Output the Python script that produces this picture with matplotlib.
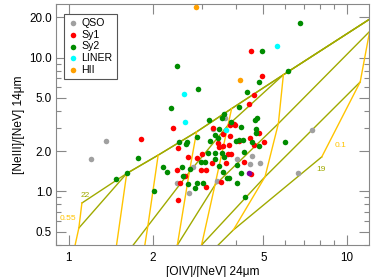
import numpy as np
import matplotlib
matplotlib.use("Agg")
import matplotlib.pyplot as plt
from matplotlib.ticker import FixedLocator, FixedFormatter, LogLocator, NullFormatter

plt.rcParams['font.family'] = ['Liberation Sans', 'DejaVu Sans']

# log10 line ratios
# x = log10([OIV]/[NeV] 24um), y = log10([NeIII]/[NeV] 14um)
qso_x = [0.078, 0.133, 0.390, 0.432, 0.446, 0.519, 0.562, 0.531, 0.605, 0.660, 0.651, 0.687, 0.822, 0.874]
qso_y = [0.241, 0.373, 0.060, -0.015, 0.179, 0.470, 0.549, 0.079, 0.239, 0.266, 0.201, 0.213, 0.134, 0.460]

sy1_x = [0.259, 0.375, 0.653, 0.693, 0.664, 0.647, 0.519, 0.579, 0.592, 0.598, 0.684, 0.578, 0.555,
         0.612, 0.651, 0.666, 0.703, 0.535, 0.553, 0.540, 0.577, 0.573, 0.583, 0.427, 0.459, 0.477,
         0.515, 0.387, 0.418, 0.474, 0.493, 0.547, 0.493, 0.393, 0.399, 0.565, 0.628, 0.654, 0.391]
sy1_y = [0.390, 0.475, 1.052, 0.866, 0.719, 0.654, 0.475, 0.495, 0.502, 0.495, 0.440, 0.415, 0.428,
         0.375, 0.398, 0.348, 0.368, 0.363, 0.340, 0.333, 0.346, 0.278, 0.278, 0.258, 0.246, 0.276,
         0.213, 0.159, 0.116, 0.159, 0.159, 0.067, 0.034, -0.065, 0.062, 0.209, 0.221, 0.129, 0.325]

sy2_x = [0.390, 0.367, 0.832, 0.694, 0.787, 0.684, 0.465, 0.639, 0.613, 0.556, 0.504, 0.549, 0.676,
         0.670, 0.583, 0.538, 0.620, 0.672, 0.672, 0.460, 0.526, 0.537, 0.613, 0.627, 0.657, 0.683,
         0.777, 0.630, 0.600, 0.396, 0.423, 0.421, 0.509, 0.247, 0.210, 0.169, 0.337, 0.351, 0.405,
         0.435, 0.411, 0.474, 0.490, 0.501, 0.525, 0.549, 0.525, 0.541, 0.559, 0.553, 0.567, 0.576,
         0.605, 0.604, 0.618, 0.428, 0.461, 0.481, 0.454, 0.306, 0.633]
sy2_y = [0.935, 0.624, 1.258, 1.052, 0.900, 0.818, 0.769, 0.746, 0.631, 0.579, 0.532, 0.545, 0.545,
         0.537, 0.519, 0.463, 0.485, 0.470, 0.440, 0.407, 0.420, 0.400, 0.383, 0.385, 0.370, 0.340,
         0.366, 0.296, 0.375, 0.370, 0.370, 0.358, 0.375, 0.246, 0.140, 0.096, 0.184, 0.146, 0.181,
         0.166, 0.116, 0.221, 0.221, 0.284, 0.284, 0.284, 0.239, 0.189, 0.258, 0.144, 0.101, 0.101,
         0.060, 0.194, 0.139, 0.054, 0.060, 0.060, 0.025, 0.006, -0.040]

liner_x = [0.415, 0.419, 0.749, 0.565]
liner_y = [0.725, 0.516, 1.084, 0.457]

hii_x = [0.457, 0.616]
hii_y = [1.378, 0.833]

other_x = [0.647]
other_y = [0.134]

# model grid (log10), rows = olive tracks (22 ... 19), columns = yellow tracks (0.55 ... 0.1)
nan = np.nan
grid_x = [[0.047, 0.208, 0.321, 0.459, 0.585, 0.771, 1.104],
          [0.036, 0.208, 0.321, 0.459, 0.585, 0.771, 1.104],
          [-0.060, 0.158, 0.284, 0.433, 0.572, 0.771, 1.104],
          [nan, nan, 0.237, 0.390, 0.525, 0.753, 1.081],
          [nan, nan, nan, 0.370, 0.477, 0.705, 1.047],
          [nan, nan, nan, nan, 0.460, 0.591, 0.909]]
grid_y = [[-0.087, 0.134, 0.271, 0.445, 0.619, 0.872, 1.319],
          [-0.274, 0.134, 0.271, 0.445, 0.619, 0.872, 1.319],
          [-1.184, -0.599, -0.259, 0.144, 0.495, 0.872, 1.319],
          [nan, nan, -0.875, -0.401, 0.047, 0.507, 1.196],
          [nan, nan, nan, -0.646, -0.401, 0.109, 0.818],
          [nan, nan, nan, nan, -0.560, -0.289, 0.258]]

olive = '#a0aa00'
gold = '#ffc400'

fig = plt.figure(figsize=(3.74, 2.77), dpi=100)
ax = fig.add_axes([0.150, 0.117, 0.837, 0.867])
ax.set_xscale('log')
ax.set_yscale('log')

gx = 10 ** np.array(grid_x)
gy = 10 ** np.array(grid_y)
for r in range(gx.shape[0]):
    ax.plot(gx[r], gy[r], color=olive, lw=1.0, zorder=2)
for c in range(gx.shape[1]):
    ax.plot(gx[:, c], gy[:, c], color=gold, lw=1.0, zorder=2)

ax.text(1.1045, 0.938, '22', color=olive, fontsize=6, va='center', ha='left')
ax.text(0.923, 0.629, '0.55', color=gold, fontsize=6, va='center', ha='left')
ax.text(9.05, 2.197, '0.1', color=gold, fontsize=6, va='center', ha='left')
ax.text(7.735, 1.467, '19', color=olive, fontsize=6, va='center', ha='left')

ms = 16
ax.scatter(10 ** np.array(qso_x), 10 ** np.array(qso_y), s=ms, color='#a0a0a0', lw=0, label='QSO', zorder=3)
ax.scatter(10 ** np.array(sy1_x), 10 ** np.array(sy1_y), s=ms, color='#ff0000', lw=0, label='Sy1', zorder=3)
ax.scatter(10 ** np.array(sy2_x), 10 ** np.array(sy2_y), s=ms, color='#008c00', lw=0, label='Sy2', zorder=3)
ax.scatter(10 ** np.array(liner_x), 10 ** np.array(liner_y), s=ms, color='#00ffff', lw=0, label='LINER', zorder=3)
ax.scatter(10 ** np.array(hii_x), 10 ** np.array(hii_y), s=ms, color='#ffa000', lw=0, label='HII', zorder=3)
ax.scatter(10 ** np.array(other_x), 10 ** np.array(other_y), s=ms, color='#8000a0', lw=0, zorder=3)

ax.set_xlim(0.9, 12.0)
ax.set_ylim(0.4, 25.0)

ax.xaxis.set_major_locator(FixedLocator([1, 2, 5, 10]))
ax.xaxis.set_major_formatter(FixedFormatter(['1', '2', '5', '10']))
ax.xaxis.set_minor_locator(LogLocator(base=10, subs=np.arange(2, 10)))
ax.xaxis.set_minor_formatter(NullFormatter())
ax.yaxis.set_major_locator(FixedLocator([0.5, 1, 2, 5, 10, 20]))
ax.yaxis.set_major_formatter(FixedFormatter(['0.5', '1.0', '2.0', '5.0', '10.0', '20.0']))
ax.yaxis.set_minor_locator(LogLocator(base=10, subs=np.arange(2, 10)))
ax.yaxis.set_minor_formatter(NullFormatter())

for s in ax.spines.values():
    s.set_color('#888888')
ax.tick_params(which='both', direction='in', top=True, right=True, color='#888888', labelsize=8.4)
ax.tick_params(which='major', length=7, width=0.8)
ax.tick_params(which='minor', length=3.5, width=0.8)
ax.tick_params(axis='x', pad=5)
ax.tick_params(axis='y', pad=3)

ax.set_xlabel('[OIV]/[NeV] 24\u03bcm', fontsize=8.6, labelpad=2)
ax.set_ylabel('[NeIII]/[NeV] 14\u03bcm', fontsize=8.6, labelpad=3)

leg = ax.legend(loc='upper left', bbox_to_anchor=(0.024, 0.96), fontsize=7.6, frameon=True,
                fancybox=False, edgecolor='#555555', framealpha=1, handletextpad=0.3,
                labelspacing=0.15, borderpad=0.4, handlelength=1.0, borderaxespad=0)
leg.get_frame().set_linewidth(0.8)

fig.savefig('out.png', dpi=100)
